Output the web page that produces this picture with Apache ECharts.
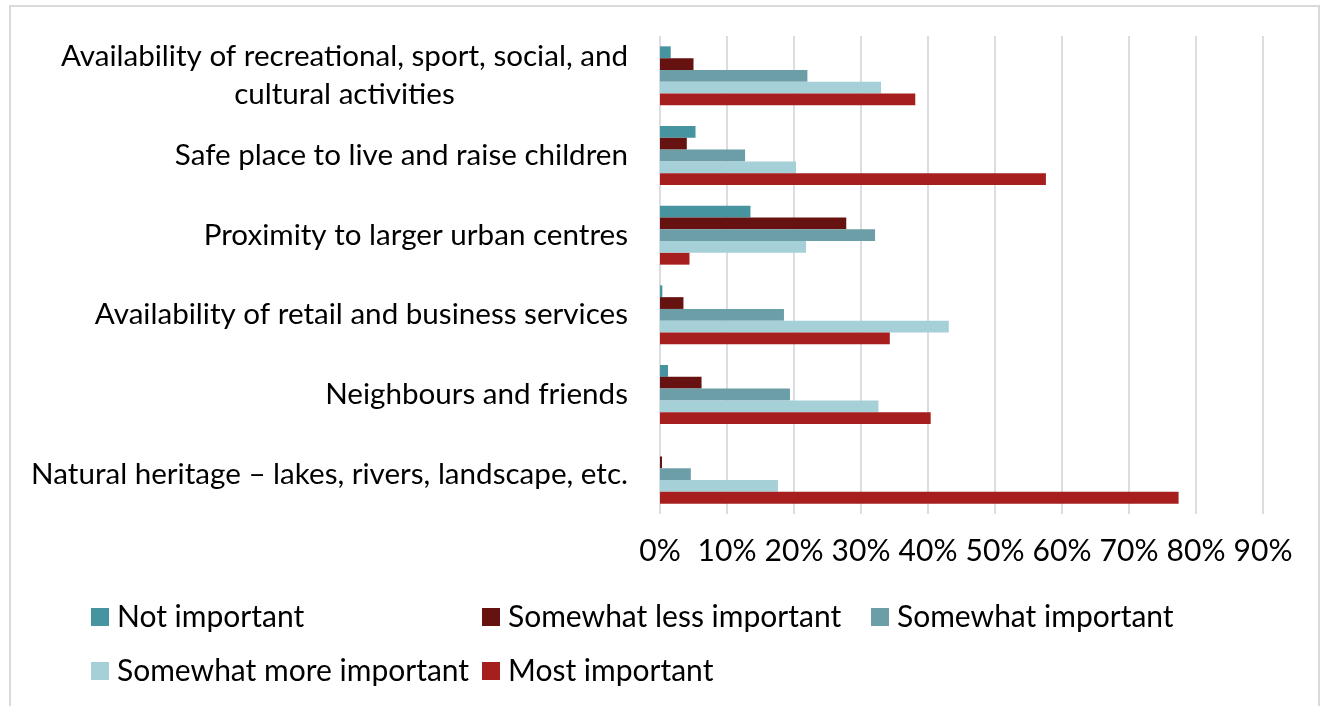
<!DOCTYPE html>
<html>
<head>
<meta charset="utf-8">
<script src="https://cdn.jsdelivr.net/npm/echarts@6/dist/echarts.min.js"></script>
<style>
  html, body { margin: 0; padding: 0; background: #fff; }
  #chart { width: 1322px; height: 706px; }
</style>
</head>
<body>
<div id="chart"></div>
<script>
// Community attributes, listed top to bottom
const categories = [
  'Availability of recreational, sport, social, and\ncultural activities',
  'Safe place to live and raise children',
  'Proximity to larger urban centres',
  'Availability of retail and business services',
  'Neighbours and friends',
  'Natural heritage \u2013 lakes, rivers, landscape, etc.'
];

const seriesNames = [
  'Not important',
  'Somewhat less important',
  'Somewhat important',
  'Somewhat more important',
  'Most important'
];

// Share of respondents (%) per category, one array per rating
const notImportant          = [1.6, 5.3, 13.5, 0.35, 1.2, 0];
const somewhatLessImportant = [5.0, 4.0, 27.8, 3.5, 6.2, 0.3];
const somewhatImportant     = [22.0, 12.7, 32.1, 18.5, 19.4, 4.6];
const somewhatMoreImportant = [33.0, 20.3, 21.8, 43.1, 32.6, 17.6];
const mostImportant         = [38.1, 57.6, 4.4, 34.3, 40.4, 77.4];

const xTicks = ['0%', '10%', '20%', '30%', '40%', '50%', '60%', '70%', '80%', '90%'];

const seriesValues = [notImportant, somewhatLessImportant, somewhatImportant, somewhatMoreImportant, mostImportant];
const colors = ['#46949F', '#651211', '#6C9EA7', '#A5D0D8', '#A71E1E'];

const FONT = 'Lato';
const FS = 30;
const FS_CAT = 29.6;

// legend placed as a two-row grid of fixed columns
const legendPos = [
  { left: 91, top: 602 },
  { left: 482, top: 602 },
  { left: 871, top: 602 },
  { left: 91, top: 656 },
  { left: 482, top: 656 }
];

const chart = echarts.init(document.getElementById('chart'), null, { renderer: 'canvas' });

chart.setOption({
  animation: false,
  backgroundColor: '#fff',
  color: colors,
  graphic: [{
    type: 'rect',
    shape: { x: 10, y: 6, width: 1309, height: 720 },
    style: { fill: 'none', stroke: '#D9D9D9', lineWidth: 2 },
    silent: true
  }],
  grid: { left: 660, right: 59, top: 36, height: 478, containLabel: false },
  legend: seriesNames.map((n, i) => ({
    data: [n],
    left: legendPos[i].left,
    top: legendPos[i].top,
    icon: 'rect',
    itemWidth: 18,
    itemHeight: 18,
    padding: 0,
    textStyle: { fontFamily: FONT, fontSize: FS, color: '#000', padding: [0, 0, 0, 3] },
    selectedMode: false
  })),
  xAxis: {
    type: 'value',
    min: 0,
    max: 90,
    interval: 10,
    axisLine: { show: false },
    axisTick: { show: false },
    splitLine: { show: true, lineStyle: { color: '#DCDCE2', width: 2 } },
    axisLabel: {
      margin: 22,
      fontFamily: FONT,
      fontSize: FS,
      color: '#000',
      formatter: (v) => xTicks[Math.round(v / 10)]
    }
  },
  yAxis: {
    type: 'category',
    data: categories,
    inverse: true,
    axisLine: { show: false },
    axisTick: { show: false },
    splitLine: { show: false },
    axisLabel: {
      margin: 32,
      fontFamily: FONT,
      fontSize: FS_CAT,
      color: '#000',
      lineHeight: 38,
      formatter: (v) => v.split('\n').map(l => '{c|' + l + '}').join('\n'),
      rich: {
        c: { align: 'center', fontFamily: FONT, fontSize: FS_CAT, color: '#000', lineHeight: 38 }
      }
    }
  },
  series: seriesNames.map((n, i) => ({
    name: n,
    type: 'bar',
    data: seriesValues[i],
    barGap: '0%',
    barCategoryGap: '26%',
    itemStyle: { color: colors[i] }
  }))
});
</script>
</body>
</html>
